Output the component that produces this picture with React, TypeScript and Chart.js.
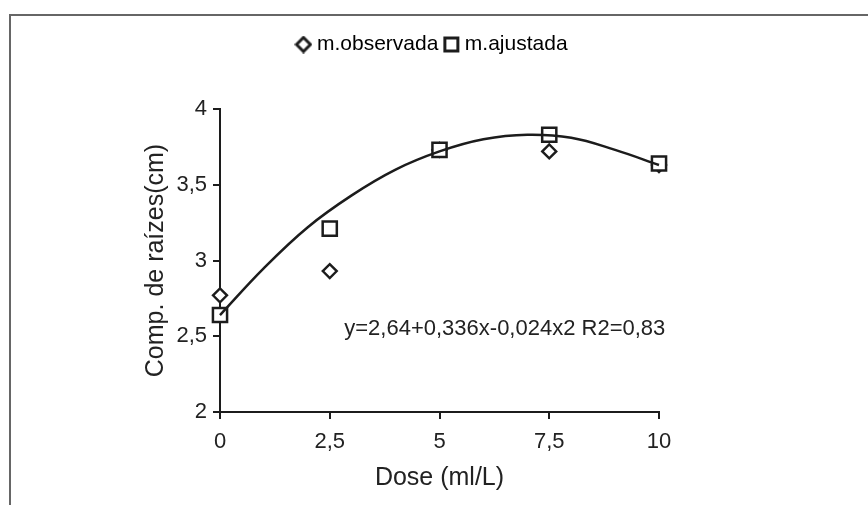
import React, { useEffect, useRef } from 'react';
import { Chart, registerables } from 'chart.js';

Chart.register(...registerables);

// ---- data ----
const DOSES = [0, 2.5, 5, 7.5, 10];
const OBSERVED = [2.77, 2.93, 3.73, 3.72, 3.63];
const ADJUSTED = [2.64, 3.21, 3.73, 3.83, 3.64];
const CURVE_X = [0, 1, 2, 3, 4, 5, 6, 7, 8, 9, 10];
const CURVE_Y = [2.64, 2.95, 3.22, 3.43, 3.6, 3.72, 3.8, 3.83, 3.81, 3.73, 3.63];
const X_TICKS = [0, 2.5, 5, 7.5, 10];
const Y_TICKS = [2, 2.5, 3, 3.5, 4];
const SERIES_LABELS = ['m.observada', 'm.ajustada'];
const X_TITLE = 'Dose (ml/L)';
const Y_TITLE = 'Comp. de raízes(cm)';
const EQUATION = 'y=2,64+0,336x-0,024x2 R2=0,83';
const EQUATION_ANCHOR = { x: 2.83, y: 2.55 };

const FONT = '"Liberation Sans", Arial, sans-serif';
const INK = '#1c1c1c';
const TEXT = '#222222';

function makeMarker(kind: 'diamond' | 'square'): HTMLCanvasElement {
  const c = document.createElement('canvas');
  c.width = 18;
  c.height = 18;
  const g = c.getContext('2d')!;
  g.strokeStyle = INK;
  g.lineWidth = 3;
  g.fillStyle = '#ffffff';
  g.beginPath();
  if (kind === 'diamond') {
    g.moveTo(9, 2);
    g.lineTo(16, 9);
    g.lineTo(9, 16);
    g.lineTo(2, 9);
    g.closePath();
  } else {
    g.rect(2.5, 2.5, 13, 13);
  }
  g.fill();
  g.stroke();
  return c;
}

const fmt = (v: number | string) => String(v).replace('.', ',');

export default function App() {
  const ref = useRef<HTMLCanvasElement>(null);

  useEffect(() => {
    if (!ref.current) return;
    const diamondImg = makeMarker('diamond');
    const squareImg = makeMarker('square');

    const legendSpacer = {
      id: 'legendSpacer',
      beforeInit(chart: any) {
        const orig = chart.legend.fit;
        chart.legend.fit = function () {
          orig.call(this);
          this.height += 44;
        };
      },
    };

    const equationPlugin = {
      id: 'equation',
      afterDraw(chart: any) {
        const { ctx, scales } = chart;
        const x = scales.x.getPixelForValue(EQUATION_ANCHOR.x);
        const y = scales.y.getPixelForValue(EQUATION_ANCHOR.y);
        ctx.save();
        ctx.font = `22px ${FONT}`;
        ctx.fillStyle = TEXT;
        ctx.textAlign = 'left';
        ctx.textBaseline = 'middle';
        ctx.fillText(EQUATION, x, y);
        ctx.restore();
      },
    };

    const chart = new Chart(ref.current, {
      type: 'scatter',
      data: {
        datasets: [
          {
            label: 'curve',
            data: CURVE_X.map((x, i) => ({ x, y: CURVE_Y[i] })),
            showLine: true,
            tension: 0.4,
            borderColor: INK,
            borderWidth: 2.5,
            pointRadius: 0,
            clip: false,
            order: 0,
          },
          {
            label: SERIES_LABELS[1],
            data: DOSES.map((x, i) => ({ x, y: ADJUSTED[i] })),
            pointStyle: 'rect',
            pointRadius: 10,
            borderColor: INK,
            backgroundColor: '#ffffff',
            borderWidth: 2.5,
            clip: false,
            order: 1,
          },
          {
            label: SERIES_LABELS[0],
            data: DOSES.map((x, i) => ({ x, y: OBSERVED[i] })),
            pointStyle: 'rectRot',
            pointRadius: 7,
            borderColor: INK,
            backgroundColor: '#ffffff',
            borderWidth: 2.4,
            clip: false,
            order: 2,
          },
        ],
      },
      options: {
        responsive: false,
        animation: false,
        devicePixelRatio: 1,
        events: [],
        layout: { padding: { left: 0, right: 0, top: 24, bottom: 0 } },
        plugins: {
          tooltip: { enabled: false },
          legend: {
            position: 'top',
            align: 'center',
            labels: {
              usePointStyle: true,
              boxWidth: 6,
              boxHeight: 14,
              padding: 10,
              color: TEXT,
              font: { family: FONT, size: 21 },
              generateLabels: () => [
                { text: SERIES_LABELS[0], pointStyle: diamondImg as any, fillStyle: '#fff', strokeStyle: INK, lineWidth: 0, hidden: false, datasetIndex: 2 },
                { text: SERIES_LABELS[1], pointStyle: squareImg as any, fillStyle: '#fff', strokeStyle: INK, lineWidth: 0, hidden: false, datasetIndex: 1 },
              ],
            },
          },
        },
        scales: {
          x: {
            type: 'linear',
            min: 0,
            max: 10,
            afterFit: (s: any) => { s.height = 93; },
            afterBuildTicks: (s: any) => { s.ticks = X_TICKS.map((v) => ({ value: v })); },
            grid: { display: true, drawOnChartArea: false, drawTicks: true, tickLength: 7, color: INK, lineWidth: 2 },
            border: { display: true, color: INK, width: 2 },
            ticks: { color: TEXT, font: { family: FONT, size: 22 }, padding: 10, callback: (v: any) => fmt(v) },
            title: { display: true, text: X_TITLE, color: TEXT, font: { family: FONT, size: 25 }, padding: { top: 4, bottom: 12 } },
          },
          y: {
            type: 'linear',
            min: 2,
            max: 4,
            afterFit: (s: any) => { s.width = 220; },
            afterBuildTicks: (s: any) => { s.ticks = Y_TICKS.map((v) => ({ value: v })); },
            grid: { display: true, drawOnChartArea: false, drawTicks: true, tickLength: 7, color: INK, lineWidth: 2 },
            border: { display: true, color: INK, width: 2 },
            ticks: { color: TEXT, font: { family: FONT, size: 22 }, padding: 6, callback: (v: any) => fmt(v) },
            title: { display: true, text: Y_TITLE, color: TEXT, font: { family: FONT, size: 25 }, padding: { top: 141, bottom: 0 } },
          },
          spacer: {
            type: 'linear',
            position: 'right',
            display: true,
            afterFit: (s: any) => { s.width = 209; },
            grid: { display: false, drawTicks: false },
            border: { display: false },
            ticks: { display: false },
          },
        },
      },
      plugins: [legendSpacer, equationPlugin],
    } as any);

    return () => chart.destroy();
  }, []);

  return (
    <div style={{ position: 'absolute', left: 0, top: 0, width: 868, height: 505, background: '#fff' }}>
      <canvas ref={ref} width={868} height={505} style={{ display: 'block', width: 868, height: 505 }} />
      <div
        style={{
          position: 'absolute',
          left: 9,
          top: 14,
          right: 0,
          bottom: 0,
          borderLeft: '2px solid #666',
          borderTop: '2px solid #666',
          pointerEvents: 'none',
        }}
      />
    </div>
  );
}
